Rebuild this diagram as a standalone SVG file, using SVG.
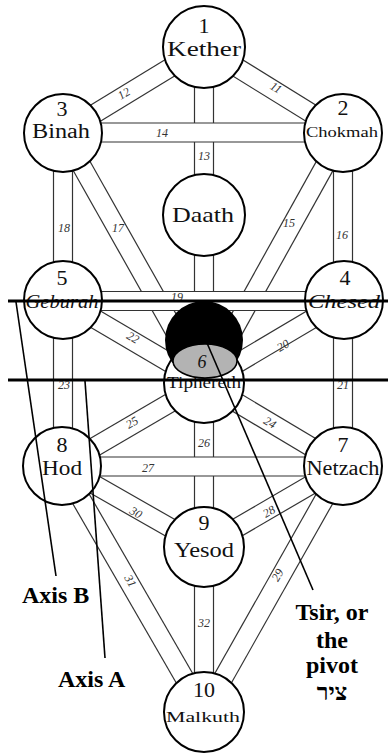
<svg xmlns="http://www.w3.org/2000/svg" width="388" height="754" viewBox="0 0 388 754">
<style>
.pl{stroke:#333;stroke-width:1.2;fill:none}
.band{fill:#fff;stroke:none}
.node{fill:#fff;stroke:#000;stroke-width:2}
.nm{font-family:'Liberation Serif','Times New Roman','DejaVu Serif',serif;fill:#111;text-anchor:middle}
.num{font-family:'Liberation Serif','Times New Roman','DejaVu Serif',serif;font-size:22px;fill:#111;text-anchor:middle}
.lbl{font-family:'Liberation Serif','Times New Roman','DejaVu Serif',serif;font-size:12px;font-style:italic;fill:#333;text-anchor:middle}
.axis{stroke:#000;stroke-width:1.6;fill:none}
.bar{stroke:#000;stroke-width:3}
.bold{font-family:'Liberation Serif','Times New Roman','DejaVu Serif',serif;font-weight:bold;font-size:24px;fill:#000}
</style>
<rect width="388" height="754" fill="#fff"/>
<g id="connectors">
  <line class="pl" x1="199" y1="55.1" x2="338" y2="141.1"/><line class="pl" x1="209" y1="38.9" x2="348" y2="124.9"/>
  <line class="pl" x1="199" y1="38.9" x2="58" y2="124.9"/><line class="pl" x1="209" y1="55.1" x2="68" y2="141.1"/>
  <line class="pl" x1="194.5" y1="47" x2="194.5" y2="383"/><line class="pl" x1="213.5" y1="47" x2="213.5" y2="383"/>
  <line class="pl" x1="334.7" y1="128.4" x2="195.7" y2="378.4"/><line class="pl" x1="351.3" y1="137.6" x2="212.3" y2="387.6"/>
  <line class="pl" x1="333.5" y1="133" x2="333.5" y2="300"/><line class="pl" x1="352.5" y1="133" x2="352.5" y2="300"/>
  <line class="pl" x1="54.7" y1="137.7" x2="195.7" y2="387.7"/><line class="pl" x1="71.3" y1="128.3" x2="212.3" y2="378.3"/>
  <line class="pl" x1="53.5" y1="133" x2="53.5" y2="300"/><line class="pl" x1="72.5" y1="133" x2="72.5" y2="300"/>
  <line class="pl" x1="339.2" y1="291.8" x2="199.2" y2="374.8"/><line class="pl" x1="348.8" y1="308.2" x2="208.8" y2="391.2"/>
  <line class="pl" x1="333.5" y1="300" x2="333.5" y2="466"/><line class="pl" x1="352.5" y1="300" x2="352.5" y2="466"/>
  <line class="pl" x1="58.2" y1="308.2" x2="199.2" y2="391.2"/><line class="pl" x1="67.8" y1="291.8" x2="208.8" y2="374.8"/>
  <line class="pl" x1="53.5" y1="300" x2="53.5" y2="466"/><line class="pl" x1="72.5" y1="300" x2="72.5" y2="466"/>
  <line class="pl" x1="347.9" y1="457.8" x2="208.9" y2="374.8"/><line class="pl" x1="338.1" y1="474.2" x2="199.1" y2="391.2"/>
  <line class="pl" x1="66.8" y1="474.2" x2="208.8" y2="391.2"/><line class="pl" x1="57.2" y1="457.8" x2="199.2" y2="374.8"/>
  <line class="pl" x1="194.5" y1="383" x2="194.5" y2="547"/><line class="pl" x1="213.5" y1="383" x2="213.5" y2="547"/>
  <line class="pl" x1="338.2" y1="457.8" x2="199.2" y2="538.8"/><line class="pl" x1="347.8" y1="474.2" x2="208.8" y2="555.2"/>
  <line class="pl" x1="334.7" y1="461.3" x2="195.7" y2="707.3"/><line class="pl" x1="351.3" y1="470.7" x2="212.3" y2="716.7"/>
  <line class="pl" x1="57.3" y1="474.3" x2="199.3" y2="555.3"/><line class="pl" x1="66.7" y1="457.8" x2="208.7" y2="538.8"/>
  <line class="pl" x1="53.8" y1="470.8" x2="195.8" y2="716.8"/><line class="pl" x1="70.2" y1="461.2" x2="212.2" y2="707.2"/>
  <line class="pl" x1="194.5" y1="547" x2="194.5" y2="712"/><line class="pl" x1="213.5" y1="547" x2="213.5" y2="712"/>
  <rect class="band" x="63" y="123" width="280" height="19"/>
  <line class="pl" x1="63" y1="123" x2="343" y2="123"/><line class="pl" x1="63" y1="142" x2="343" y2="142"/>
  <rect class="band" x="63" y="291.5" width="281" height="19"/>
  <line class="pl" x1="63" y1="291.5" x2="344" y2="291.5"/><line class="pl" x1="63" y1="310.5" x2="344" y2="310.5"/>
  <rect class="band" x="62" y="457" width="281" height="19"/>
  <line class="pl" x1="62" y1="457" x2="343" y2="457"/><line class="pl" x1="62" y1="476" x2="343" y2="476"/>
  <text class="lbl" transform="translate(274 91) rotate(31)">11</text>
  <text class="lbl" transform="translate(126 97) rotate(-31)">12</text>
  <text class="lbl" x="204" y="160">13</text>
  <text class="lbl" x="162" y="137">14</text>
  <text class="lbl" x="289" y="227">15</text>
  <text class="lbl" x="342" y="239">16</text>
  <text class="lbl" x="118" y="232">17</text>
  <text class="lbl" x="64" y="232">18</text>
  <text class="lbl" x="177" y="301">19</text>
  <text class="lbl" transform="translate(285 349) rotate(-30)">20</text>
  <text class="lbl" x="343" y="389">21</text>
  <text class="lbl" transform="translate(131 341) rotate(30)">22</text>
  <text class="lbl" x="64" y="389">23</text>
  <text class="lbl" transform="translate(268 426) rotate(30)">24</text>
  <text class="lbl" transform="translate(134 426) rotate(-30)">25</text>
  <text class="lbl" x="204" y="447">26</text>
  <text class="lbl" x="148" y="472">27</text>
  <text class="lbl" transform="translate(271 515) rotate(-30)">28</text>
  <text class="lbl" transform="translate(281 577) rotate(-60)">29</text>
  <text class="lbl" transform="translate(134 516) rotate(30)">30</text>
  <text class="lbl" transform="translate(127 583) rotate(60)">31</text>
  <text class="lbl" x="204" y="627">32</text>
</g>
<g id="kether"><circle class="node" cx="204" cy="47" r="41"/><text class="num" x="204" y="33">1</text><text class="nm" x="204" y="56" font-size="21" textLength="74" lengthAdjust="spacingAndGlyphs">Kether</text></g>
<g id="chokmah"><circle class="node" cx="343" cy="133" r="39"/><text class="num" x="343" y="115">2</text><text class="nm" x="342" y="137" font-size="15" textLength="72" lengthAdjust="spacingAndGlyphs">Chokmah</text></g>
<g id="binah"><circle class="node" cx="63" cy="133" r="39"/><text class="num" x="62" y="116">3</text><text class="nm" x="61" y="138" font-size="20" textLength="58" lengthAdjust="spacingAndGlyphs">Binah</text></g>
<g id="daath"><circle class="node" cx="204" cy="215" r="41"/><text class="nm" x="203" y="222" font-size="21" textLength="62" lengthAdjust="spacingAndGlyphs">Daath</text></g>
<g id="chesed"><circle class="node" cx="344" cy="300" r="39"/><text class="num" x="345" y="285">4</text><text class="nm" x="344" y="308" font-size="19" font-style="italic" textLength="72" lengthAdjust="spacingAndGlyphs">Chesed</text></g>
<g id="geburah"><circle class="node" cx="63" cy="300" r="39"/><text class="num" x="62" y="285">5</text><text class="nm" x="62" y="308" font-size="18" font-style="italic" textLength="73" lengthAdjust="spacingAndGlyphs">Geburah</text></g>
<g id="tiphereth"><circle class="node" cx="204" cy="383" r="40"/><text class="nm" x="204" y="388" font-size="17" textLength="74" lengthAdjust="spacingAndGlyphs">Tiphereth</text></g>
<g id="netzach"><circle class="node" cx="343" cy="466" r="39"/><text class="num" x="343" y="452">7</text><text class="nm" x="343" y="475" font-size="20" textLength="73" lengthAdjust="spacingAndGlyphs">Netzach</text></g>
<g id="hod"><circle class="node" cx="62" cy="466" r="39"/><text class="num" x="62" y="452">8</text><text class="nm" x="62" y="475" font-size="22" textLength="40" lengthAdjust="spacingAndGlyphs">Hod</text></g>
<g id="yesod"><circle class="node" cx="204" cy="547" r="40"/><text class="num" x="204" y="530">9</text><text class="nm" x="204" y="557" font-size="21" textLength="60" lengthAdjust="spacingAndGlyphs">Yesod</text></g>
<g id="malkuth"><circle class="node" cx="204" cy="712" r="40"/><text class="num" x="204" y="697">10</text><text class="nm" x="203" y="722" font-size="15" textLength="74" lengthAdjust="spacingAndGlyphs">Malkuth</text></g>
<g id="tsir-disc">
  <circle cx="204" cy="340" r="39" fill="#000"/>
  <ellipse cx="205" cy="361" rx="32" ry="17" fill="#b3b3b3" stroke="#000" stroke-width="1.5"/>
  <text class="nm" x="202" y="368" font-size="18" font-style="italic" fill="#555">6</text>
</g>
<g id="axes">
  <line class="bar" x1="8" y1="301" x2="388" y2="301"/>
  <line class="bar" x1="8" y1="380" x2="388" y2="380"/>
  <line class="axis" x1="16" y1="302" x2="56" y2="576"/>
  <line class="axis" x1="85" y1="381" x2="105" y2="658"/>
  <line class="axis" x1="207" y1="343" x2="313" y2="590"/>
</g>
<g id="captions">
  <text class="bold" x="22" y="603">Axis B</text>
  <text class="bold" x="58" y="687">Axis A</text>
  <text class="bold" x="332" y="620" text-anchor="middle">Tsir, or</text>
  <text class="bold" x="332" y="648" text-anchor="middle">the</text>
  <text class="bold" x="332" y="673" text-anchor="middle">pivot</text>
  <text class="bold" x="332" y="700" text-anchor="middle" font-size="20">ציר</text>
</g>
</svg>
